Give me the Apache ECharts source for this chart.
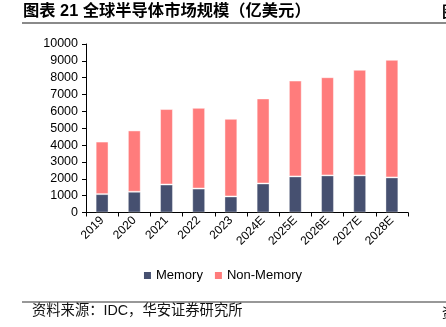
<!DOCTYPE html>
<html><head><meta charset="utf-8">
<script src="https://cdn.jsdelivr.net/npm/echarts@6/dist/echarts.min.js"></script>
<style>html,body{margin:0;padding:0;background:#fff}#c{width:446px;height:327px}</style>
</head><body><div id="c"></div>
<script>
var categories = ['2019','2020','2021','2022','2023','2024E','2025E','2026E','2027E','2028E'];
var memory = [1090,1230,1660,1420,950,1720,2140,2200,2200,2080];
var nonMemory = [3120,3640,4480,4790,4610,5050,5690,5830,6270,6980];
var yTicks = [0,1000,2000,3000,4000,5000,6000,7000,8000,9000,10000];

var chart = echarts.init(document.getElementById('c'), null, {renderer:'canvas'});
var font = '"Liberation Sans", Arial, "Noto Sans CJK SC", sans-serif';
chart.setOption({
  animation:false,
  textStyle:{fontFamily:font},
  grid:{left:86,right:38,top:44,bottom:114.5,containLabel:false},
  xAxis:{type:'category',data:categories,boundaryGap:true,
    axisLine:{lineStyle:{color:'#000',width:1}},
    axisTick:{show:true,alignWithLabel:false,length:4,lineStyle:{color:'#000'}},
    axisLabel:{rotate:45,color:'#000',fontSize:12,margin:6,fontFamily:font,interval:0}},
  yAxis:{type:'value',min:yTicks[0],max:yTicks[yTicks.length-1],interval:1000,
    splitLine:{show:false},
    axisLine:{show:true,lineStyle:{color:'#000',width:1}},
    axisTick:{show:true,length:4,lineStyle:{color:'#000'}},
    axisLabel:{color:'#000',fontSize:12.5,margin:8,fontFamily:font,formatter:function(v){return String(v);}}},
  legend:{data:['Memory','Non-Memory'],left:'center',top:269,itemWidth:7,itemHeight:7,itemGap:12,
    icon:'rect',textStyle:{color:'#000',fontSize:13,fontFamily:font},padding:0,itemStyle:{borderWidth:0}},
  series:[
    {name:'Memory',type:'bar',stack:'t',data:memory,barWidth:'40%',
      itemStyle:{color:'#465070',borderColor:'rgba(255,255,255,0.35)',borderWidth:1}},
    {name:'Non-Memory',type:'bar',stack:'t',data:nonMemory,barWidth:'40%',
      itemStyle:{color:'#ff7c7c',borderColor:'rgba(255,255,255,0.45)',borderWidth:1}}
  ],
  graphic:[
    {type:'text',left:23,top:3,style:{text:'图表 21 全球半导体市场规模（亿美元）',fill:'#000',
      font:'bold 16.3px "Liberation Sans", "Noto Sans CJK SC", sans-serif'}},
    {type:'rect',shape:{x:22,y:22,width:424,height:2},style:{fill:'#8a8a8a'}},
    {type:'text',left:442,top:4,style:{text:'图',fill:'#000',font:'bold 15px "Noto Sans CJK SC", sans-serif'}},
    {type:'rect',shape:{x:22,y:301.5,width:424,height:1},style:{fill:'#333'}},
    {type:'text',left:32,top:304,style:{text:'资料来源：IDC，华安证券研究所',fill:'#111',
      font:'14.3px "Liberation Sans", "Noto Sans CJK SC", sans-serif'}},
    {type:'text',left:442,top:306,style:{text:'资',fill:'#000',font:'13px "Noto Sans CJK SC", sans-serif'}}
  ]
});
</script></body></html>
